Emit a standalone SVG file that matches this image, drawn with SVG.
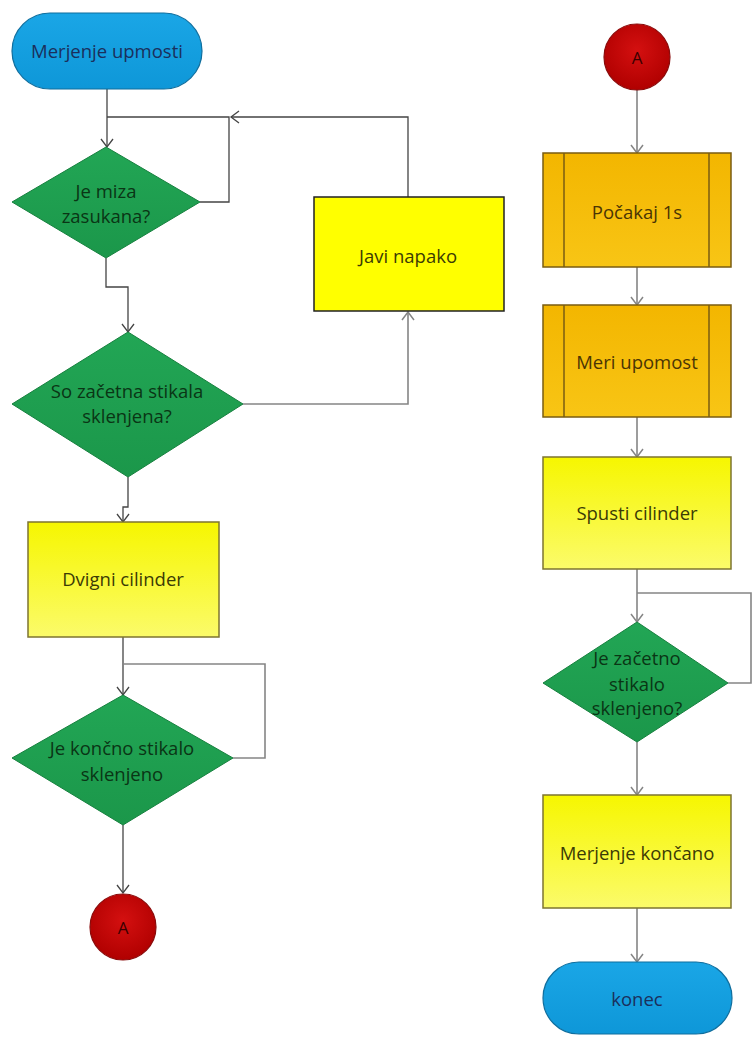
<svg xmlns="http://www.w3.org/2000/svg" width="752" height="1037" viewBox="0 0 752 1037">
<style>
.t{font-family:"Open Sans","Liberation Sans",sans-serif;font-size:18.5px;text-anchor:middle;dominant-baseline:central}
.tb{fill:#1b2f5c}
.tg{fill:#0a3515}
.ty{fill:#3b3b05}
.to{fill:#4a3505}
.tr{fill:#3a0000;font-size:17px}
.term{fill:url(#gBlue);stroke:#0f6e9e;stroke-width:1.2}
.dia{fill:url(#gGreen);stroke:#16803e;stroke-width:1}
.box{fill:url(#gYellow);stroke:#7d7430;stroke-width:1.5}
.sub{fill:url(#gOrange);stroke:#7a5c12;stroke-width:1.5}
.circ{fill:url(#gRed);stroke:#8a0b0b;stroke-width:1.2}
.cd{fill:none;stroke:#444;stroke-width:1.3}
.cg{fill:none;stroke:#858585;stroke-width:1.6}
</style>
<defs>
<linearGradient id="gBlue" x1="0" y1="0" x2="0" y2="1"><stop offset="0" stop-color="#1aa6e6"/><stop offset="1" stop-color="#0e97d8"/></linearGradient>
<linearGradient id="gGreen" x1="0" y1="0" x2="0" y2="1"><stop offset="0" stop-color="#22a655"/><stop offset="1" stop-color="#1b974a"/></linearGradient>
<linearGradient id="gYellow" x1="0" y1="0" x2="0" y2="1"><stop offset="0" stop-color="#f6f600"/><stop offset="1" stop-color="#fbfb6a"/></linearGradient>
<linearGradient id="gOrange" x1="0" y1="0" x2="0" y2="1"><stop offset="0" stop-color="#f3b600"/><stop offset="1" stop-color="#f8c515"/></linearGradient>
<radialGradient id="gRed" cx="0.5" cy="0.4" r="0.6"><stop offset="0" stop-color="#d41010"/><stop offset="1" stop-color="#b00000"/></radialGradient>
<marker id="aD" markerUnits="userSpaceOnUse" markerWidth="12" markerHeight="14" refX="9" refY="7" orient="auto"><path d="M1,1 L9,7 L1,13" fill="none" stroke="#444" stroke-width="1.3"/></marker>
<marker id="aG" markerUnits="userSpaceOnUse" markerWidth="12" markerHeight="14" refX="9" refY="7" orient="auto"><path d="M1,1 L9,7 L1,13" fill="none" stroke="#858585" stroke-width="1.5"/></marker>
</defs>

<g id="connectors">
<path class="cd" d="M107,89 V147" marker-end="url(#aD)"/>
<path class="cd" d="M200,202 H229 V117 H107"/>
<path class="cd" d="M408,197 V117 H231" marker-end="url(#aD)"/>
<path class="cd" d="M106,258 V287 H128 V332" marker-end="url(#aD)"/>
<path class="cg" d="M243,404 H408 V312" marker-end="url(#aG)"/>
<path class="cd" d="M128,477 V507 H123 V522" marker-end="url(#aD)"/>
<path class="cd" d="M123,637 V695" marker-end="url(#aD)"/>
<path class="cg" d="M233,758 H265 V664 H123"/>
<path class="cd" d="M123,825 V893" marker-end="url(#aD)"/>
<path class="cg" d="M637,90 V153" marker-end="url(#aG)"/>
<path class="cg" d="M637,267 V305" marker-end="url(#aG)"/>
<path class="cg" d="M637,417 V457" marker-end="url(#aG)"/>
<path class="cg" d="M637,569 V622" marker-end="url(#aG)"/>
<path class="cg" d="M728,683 H751 V593 H637"/>
<path class="cg" d="M637,742 V795" marker-end="url(#aG)"/>
<path class="cg" d="M637,908 V962" marker-end="url(#aG)"/>
</g>

<g id="start">
<rect class="term" x="12" y="13" width="190" height="76" rx="38" ry="38"/>
<text class="t tb" x="107" y="50">Merjenje upmosti</text>
</g>
<g id="d1">
<polygon class="dia" points="106,147 200,202 106,258 12,202"/>
<text class="t tg" x="106" y="190">Je miza</text>
<text class="t tg" x="106" y="215">zasukana?</text>
</g>
<g id="d2">
<polygon class="dia" points="128,332 243,404 128,477 12,404"/>
<text class="t tg" x="127" y="390">So začetna stikala</text>
<text class="t tg" x="127" y="415">sklenjena?</text>
</g>
<g id="javi">
<rect x="314" y="197" width="190" height="114" fill="#ffff00" stroke="#222" stroke-width="1.5"/>
<text class="t ty" x="408" y="255">Javi napako</text>
</g>
<g id="dvigni">
<rect class="box" x="28" y="522" width="191" height="115"/>
<text class="t ty" x="123" y="578">Dvigni cilinder</text>
</g>
<g id="d3">
<polygon class="dia" points="123,695 233,758 123,825 12,758"/>
<text class="t tg" x="122" y="747">Je končno stikalo</text>
<text class="t tg" x="122" y="773">sklenjeno</text>
</g>
<g id="a1">
<circle class="circ" cx="123" cy="927" r="33"/>
<text class="t tr" x="123" y="927">A</text>
</g>

<g id="a2">
<circle class="circ" cx="637" cy="57" r="33"/>
<text class="t tr" x="637" y="57">A</text>
</g>
<g id="pocakaj">
<rect class="sub" x="543" y="153" width="188" height="114"/>
<line x1="564" y1="153" x2="564" y2="267" stroke="#7a5c12" stroke-width="1.5"/>
<line x1="709" y1="153" x2="709" y2="267" stroke="#7a5c12" stroke-width="1.5"/>
<text class="t to" x="637" y="211">Počakaj 1s</text>
</g>
<g id="meri">
<rect class="sub" x="543" y="305" width="188" height="112"/>
<line x1="564" y1="305" x2="564" y2="417" stroke="#7a5c12" stroke-width="1.5"/>
<line x1="709" y1="305" x2="709" y2="417" stroke="#7a5c12" stroke-width="1.5"/>
<text class="t to" x="637" y="361">Meri upomost</text>
</g>
<g id="spusti">
<rect class="box" x="543" y="457" width="188" height="112"/>
<text class="t ty" x="637" y="512">Spusti cilinder</text>
</g>
<g id="d4">
<polygon class="dia" points="637,622 728,683 637,742 543,683"/>
<text class="t tg" x="637" y="657">Je začetno</text>
<text class="t tg" x="637" y="683">stikalo</text>
<text class="t tg" x="637" y="707">sklenjeno?</text>
</g>
<g id="koncano">
<rect class="box" x="543" y="795" width="188" height="113"/>
<text class="t ty" x="637" y="852">Merjenje končano</text>
</g>
<g id="konec">
<rect class="term" x="543" y="962" width="189" height="72" rx="36" ry="36"/>
<text class="t tb" x="637" y="998">konec</text>
</g>
</svg>
